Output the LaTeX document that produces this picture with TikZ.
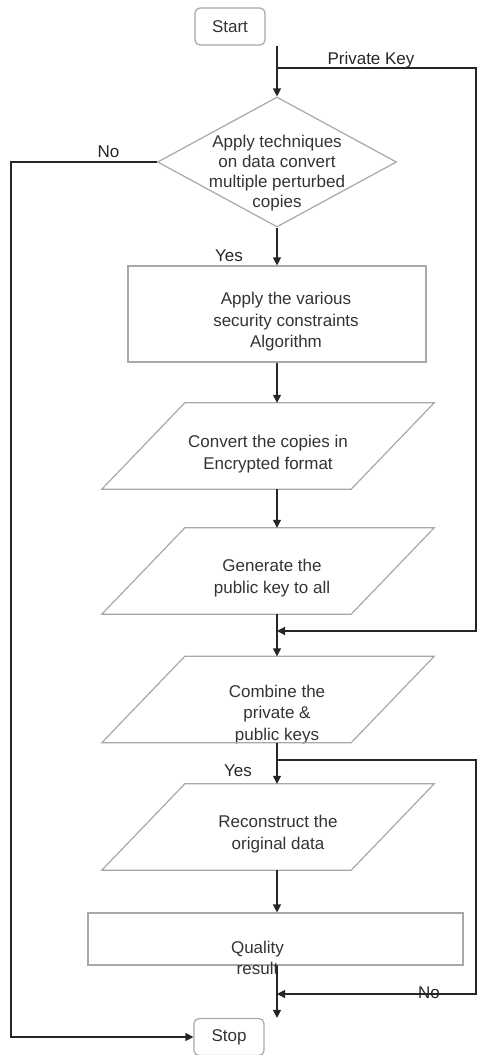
\documentclass[tikz,border=0pt]{standalone}
\usepackage{fontspec}
\setmainfont{Liberation Sans}
\usetikzlibrary{arrows.meta,positioning,shapes.geometric,calc}

\definecolor{edgegray}{HTML}{A8A8A8}
\definecolor{inkgray}{HTML}{333333}
\definecolor{wiregray}{HTML}{262626}

\tikzset{
  shapebox/.style={draw=edgegray, line width=1.2pt, inner sep=0pt},
  outline/.style={draw=edgegray, line width=1.2pt},
  term/.style={shapebox, rounded corners=5pt, minimum width=70pt, minimum height=37pt, text=inkgray},
  decide/.style={shapebox, diamond, minimum width=239pt, minimum height=130pt},
  procbox/.style={shapebox, rectangle},
  iobox/.style={inner sep=0pt, minimum width=249pt, minimum height=86pt},
  say/.style={align=center, text=inkgray},
  wire/.style={draw=wiregray, line width=1.3pt},
  conn/.style={wire, -{Triangle[length=8pt,width=8pt]}},
  tag/.style={text=wiregray, anchor=base},
}

\begin{document}
\begin{tikzpicture}[x=1pt, y=-1pt, font=\fontsize{17}{21.5}\selectfont]
\useasboundingbox (0,0) rectangle (480,1055);

% terminals
\node[term] (start) at (230,26.5) {Start};
\node[term] (stop) at (229,1037) {Stop};

% decision
\node[decide, label={[say, font=\fontsize{17}{20}\selectfont, yshift=-11pt]center:Apply techniques\\on data convert\\multiple perturbed\\copies}] (dia) at (277,162) {};

% process steps
\node[procbox, minimum width=298pt, minimum height=96pt,
  label={[say, shift={(9pt,-8pt)}]center:Apply the various\\security constraints\\Algorithm}] (algo) at (277,314) {};
\node[iobox, label={[say, yshift=-8pt]center:Convert the copies in\\Encrypted format}] (conv) at (268,446) {};
\node[iobox, label={[say, shift={(4pt,-7pt)}]center:Generate the\\public key to all}] (gen) at (268,571) {};
\node[iobox, label={[say, shift={(9pt,-15pt)}]center:Combine the\\private \&\\public keys}] (comb) at (268,699.5) {};
\node[iobox, label={[say, shift={(10pt,-7pt)}]center:Reconstruct the\\original data}] (recon) at (268,827) {};
\node[procbox, minimum width=375pt, minimum height=52pt,
  label={[say, shift={(-18pt,-19pt)}]center:Quality\\result}] (qual) at (275.5,939) {};

% slanted outlines of the data steps
\foreach \n in {conv,gen,comb,recon}
  \draw[outline] ($(\n.north west)+(41.5,0)$) -- ($(\n.north east)+(41.5,0)$)
    -- ($(\n.south east)+(-41.5,0)$) -- ($(\n.south west)+(-41.5,0)$) -- cycle;

% main line
\draw[conn] (start.south -| dia.north) -- (dia.north);
\draw[conn] (dia.south) -- (algo.north);
\draw[conn] (algo.south) -- (algo.south |- conv.north);
\draw[conn] (algo.south |- conv.south) -- (algo.south |- gen.north);
\draw[conn] (algo.south |- gen.south) -- (algo.south |- comb.north);
\draw[conn] (algo.south |- comb.south) -- (algo.south |- recon.north);
\draw[conn] (algo.south |- recon.south) -- (algo.south |- qual.north);
\draw[conn] (algo.south |- qual.south) -- (algo.south |- stop.north);

% private key loop
\coordinate (keytap) at (277,68);
\coordinate (keyR) at (476,68);
\coordinate (keyin) at (476,631);
\draw[conn] (keytap) -- (keyR) -- (keyin) -- (keyin -| algo.south);
\node[tag] (pk) at (371,64) {Private Key};

% check loop
\coordinate (chktap) at (277,760);
\coordinate (chkR) at (476,760);
\coordinate (chkin) at (476,994);
\draw[conn] (chktap) -- (chkR) -- (chkin) -- (chkin -| algo.south);

% no branch
\coordinate (noL) at (11,162);
\draw[conn] (dia.west) -- (noL) -- (noL |- stop.west) -- (stop.west);

% branch labels
\node[tag] (no1) at (108.5,157) {No};
\node[tag] (yes1) at (229,261) {Yes};
\node[tag] (yes2) at (238,776) {Yes};
\node[tag] (no2) at (429,998) {No};
\end{tikzpicture}
\end{document}
